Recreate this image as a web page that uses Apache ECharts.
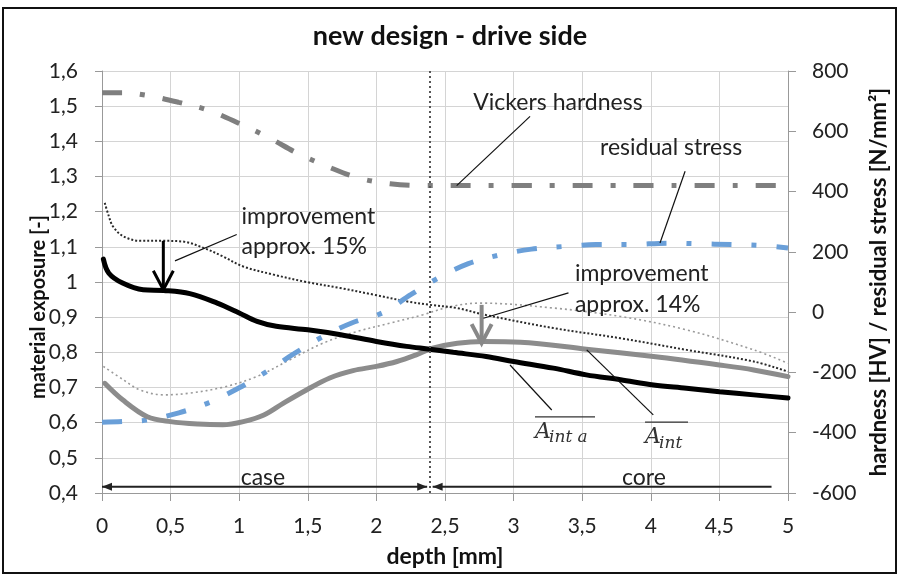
<!DOCTYPE html>
<html><head><meta charset="utf-8">
<script src="https://cdn.jsdelivr.net/npm/echarts@6/dist/echarts.min.js"></script>
<style>html,body{margin:0;padding:0;background:#fff}#c{width:900px;height:577px}</style>
</head><body><div id="c"></div>
<script>
// ---- data (depth [mm], value) ----
const titleText = 'new design - drive side';
const xName = 'depth [mm]';
const yLeftName = 'material exposure [-]';
const yRightName = 'hardness [HV] / residual stress [N/mm²]';

// Vickers hardness (right axis)
const vickers = [[0,728],[0.15,728],[0.33,719],[0.56,696],[0.78,669],[1.0,626],[1.22,578],[1.43,526],[1.65,482],[1.87,445],[2.1,426],[2.34,420],[3,420],[4,420],[5,420]];
// residual stress (right axis)
const residual = [[0,-365],[0.15,-363],[0.33,-358],[0.56,-334],[0.78,-300],[1.0,-251],[1.2,-197],[1.4,-138],[1.61,-81],[1.82,-36],[2.05,-1],[2.25,58],[2.45,113],[2.67,161],[2.9,190],[3.13,209],[3.37,218],[3.6,224],[3.84,224],[4.13,229],[4.33,227],[4.6,224],[4.8,221],[5.0,213]];
// A_int_a new (black solid)
const aIntA = [[0.01,1.065],[0.05,1.025],[0.15,0.997],[0.3,0.978],[0.45,0.976],[0.64,0.967],[0.84,0.94],[1.0,0.912],[1.13,0.888],[1.27,0.874],[1.5,0.864],[1.74,0.85],[2.0,0.831],[2.22,0.817],[2.39,0.809],[2.56,0.80],[2.8,0.788],[3.0,0.774],[3.29,0.755],[3.53,0.736],[3.78,0.722],[4.02,0.707],[4.26,0.698],[4.5,0.688],[4.75,0.679],[5.0,0.67]];
// A_int new (gray solid)
const aInt = [[0.02,0.712],[0.15,0.665],[0.33,0.617],[0.5,0.603],[0.7,0.596],[0.88,0.594],[1.03,0.603],[1.18,0.622],[1.32,0.655],[1.49,0.693],[1.66,0.727],[1.83,0.748],[2.0,0.76],[2.15,0.774],[2.29,0.793],[2.41,0.812],[2.59,0.826],[2.78,0.831],[3.05,0.829],[3.53,0.809],[4.02,0.788],[4.5,0.764],[4.75,0.75],[5.0,0.731]];
// A_int_a old (black dotted)
const aIntAOld = [[0.02,1.225],[0.05,1.187],[0.08,1.158],[0.155,1.13],[0.28,1.117],[0.45,1.117],[0.59,1.115],[0.74,1.097],[0.88,1.073],[1.03,1.044],[1.25,1.021],[1.49,1.0],[1.735,0.983],[1.98,0.964],[2.22,0.945],[2.39,0.935],[2.585,0.926],[2.8,0.906],[3.29,0.869],[3.78,0.84],[4.26,0.807],[4.75,0.774],[5.0,0.745]];
// A_int old (gray dotted)
const aIntOld = [[0.01,0.76],[0.155,0.722],[0.277,0.693],[0.447,0.679],[0.64,0.684],[0.884,0.701],[1.128,0.731],[1.37,0.779],[1.61,0.826],[1.856,0.859],[2.1,0.883],[2.34,0.907],[2.54,0.93],[2.755,0.94],[3.29,0.926],[3.78,0.902],[4.26,0.864],[4.75,0.807],[5.0,0.769]];
// case / core boundary depth
const boundaryDepth = 2.39;

const FONT = 'Lato';
const fmt = v => String(Number(v.toFixed(2))).replace('.', ',');

const chart = echarts.init(document.getElementById('c'), null, {renderer: 'canvas'});

function lineSeries(data, color, width, dash, yIdx, cap) {
  return {
    type: 'line', data: data, yAxisIndex: yIdx, showSymbol: false, smooth: 0.35,
    lineStyle: {color: color, width: width, type: dash, cap: cap || 'butt'},
    z: 3, silent: true, animation: false
  };
}

chart.setOption({
  animation: false,
  backgroundColor: '#fff',
  title: {
    text: titleText, left: 'center', top: 18,
    textStyle: {fontFamily: FONT, fontWeight: 'bold', fontSize: 27, color: '#111'}
  },
  grid: {left: 102, right: 112, top: 71, bottom: 84},
  xAxis: {
    type: 'value', min: 0, max: 5, interval: 0.5,
    name: xName, nameLocation: 'middle', nameGap: 52, nameMoveOverlap: false,
    nameTextStyle: {fontFamily: FONT, fontWeight: 'bold', fontSize: 23, color: '#111'},
    axisLine: {onZero: false, lineStyle: {color: '#999', width: 1}},
    axisTick: {show: true, length: 8, lineStyle: {color: '#999'}},
    axisLabel: {formatter: fmt, fontFamily: FONT, fontSize: 21, color: '#222', margin: 23},
    splitLine: {show: true, lineStyle: {color: '#d4d4d4', width: 1}}
  },
  yAxis: [{
    type: 'value', min: 0.4, max: 1.6, interval: 0.1,
    name: yLeftName, nameLocation: 'middle', nameGap: 53, nameRotate: 90, nameMoveOverlap: false,
    nameTextStyle: {fontFamily: FONT, fontWeight: 'bold', fontSize: 20, color: '#111', padding: [0, 50, 0, 0]},
    axisLine: {show: true, onZero: false, lineStyle: {color: '#999', width: 1}},
    axisTick: {show: true, length: 7, lineStyle: {color: '#999'}},
    axisLabel: {formatter: fmt, fontFamily: FONT, fontSize: 21, color: '#222', margin: 24},
    splitLine: {show: true, lineStyle: {color: '#d4d4d4', width: 1}}
  }, {
    type: 'value', min: -600, max: 800, interval: 200, position: 'right',
    name: yRightName, nameLocation: 'middle', nameGap: 80, nameRotate: 90, nameMoveOverlap: false,
    nameTextStyle: {fontFamily: FONT, fontWeight: 'bold', fontSize: 22, color: '#111'},
    axisLine: {show: true, onZero: false, lineStyle: {color: '#999', width: 1}},
    axisTick: {show: true, length: 8, lineStyle: {color: '#999'}},
    axisLabel: {formatter: v => String(v), fontFamily: FONT, fontSize: 21, color: '#222', margin: 24},
    splitLine: {show: false}
  }],
  series: [
    lineSeries(aIntOld, '#9a9a9a', 1.6, [2, 3], 0),
    lineSeries(aIntAOld, '#2a2a2a', 2, [2, 2], 0),
    lineSeries(vickers, '#7f7f7f', 5, [20, 18, 5, 18], 1),
    lineSeries(residual, '#6a9fd8', 5, [20, 20, 5, 20], 1),
    lineSeries(aInt, '#8c8c8c', 5, 'solid', 0, 'round'),
    lineSeries(aIntA, '#000000', 5, 'solid', 0, 'round'),
    {
      type: 'line', data: [], yAxisIndex: 0, silent: true,
      markLine: {
        symbol: 'none', silent: true, label: {show: false},
        lineStyle: {color: '#555', width: 2, type: [2, 3]},
        data: [{xAxis: boundaryDepth}]
      }
    }
  ]
});

// ---- annotations, anchored in data coordinates (depth, material exposure) ----
const P = (d, v) => chart.convertToPixel({xAxisIndex: 0, yAxisIndex: 0}, [d, v]);
const txtStyle = (t, extra) => Object.assign({text: t, fontFamily: FONT, fontSize: 23, fill: '#222', textVerticalAlign: 'middle'}, extra || {});
const g = [];
function text(t, d, v, extra) {
  const p = P(d, v);
  g.push({type: 'text', x: p[0], y: p[1], style: txtStyle(t, extra), z: 10});
}
function seg(d1, v1, d2, v2, color, w) {
  const a = P(d1, v1), b = P(d2, v2);
  g.push({type: 'line', shape: {x1: a[0], y1: a[1], x2: b[0], y2: b[1]}, style: {stroke: color, lineWidth: w}, z: 10});
}
function downArrow(d, vTop, vTip, color, w) {
  const a = P(d, vTop), b = P(d, vTip);
  g.push({type: 'line', shape: {x1: a[0], y1: a[1], x2: b[0], y2: b[1] - 2}, style: {stroke: color, lineWidth: w}, z: 10});
  g.push({type: 'polyline', shape: {points: [[b[0] - 10, b[1] - 19], [b[0], b[1]], [b[0] + 10, b[1] - 19]]}, style: {stroke: color, lineWidth: w, fill: null, lineJoin: 'miter'}, z: 10});
}
function hArrow(d1, d2, v, headLeft, headRight) {
  const a = P(d1, v), b = P(d2, v);
  g.push({type: 'line', shape: {x1: a[0], y1: a[1], x2: b[0], y2: b[1]}, style: {stroke: '#222', lineWidth: 2}, z: 10});
  if (headLeft) g.push({type: 'polygon', shape: {points: [[a[0], a[1]], [a[0] + 10, a[1] - 4], [a[0] + 10, a[1] + 4]]}, style: {fill: '#222'}, z: 10});
  if (headRight) g.push({type: 'polygon', shape: {points: [[b[0], b[1]], [b[0] - 10, b[1] - 4], [b[0] - 10, b[1] + 4]]}, style: {fill: '#222'}, z: 10});
}
function aLabel(sub, d, v, overW) {
  const p = P(d, v);
  g.push({type: 'text', x: p[0], y: p[1], style: {text: 'A', fontFamily: 'DejaVu Serif', fontStyle: 'italic', fontSize: 22, fill: '#333', textVerticalAlign: 'middle'}, z: 10});
  g.push({type: 'text', x: p[0] + 14, y: p[1] + 6, style: {text: sub, fontFamily: 'DejaVu Serif', fontStyle: 'italic', fontSize: 17, fill: '#333', textVerticalAlign: 'middle'}, z: 10});
  g.push({type: 'line', shape: {x1: p[0], y1: p[1] - 15, x2: p[0] + overW, y2: p[1] - 15}, style: {stroke: '#333', lineWidth: 1.2}, z: 10});
}

// improvement 15%
downArrow(0.447, 1.117, 0.978, '#000', 3);
seg(0.532, 1.06, 0.982, 1.135, '#111', 1.2);
text('improvement', 1.017, 1.186);
text('approx. 15%', 1.017, 1.101);
// improvement 14%
downArrow(2.767, 0.935, 0.826, '#888', 4);
seg(2.78, 0.897, 3.40, 0.969, '#111', 1.2);
text('improvement', 3.447, 1.023);
text('approx. 14%', 3.447, 0.937);
// Vickers hardness
seg(2.585, 1.274, 3.12, 1.471, '#111', 1.2);
text('Vickers hardness', 2.706, 1.509);
// residual stress
seg(4.25, 1.315, 4.067, 1.111, '#111', 1.2);
text('residual stress', 3.63, 1.381);
// A_int_a label
seg(2.974, 0.764, 3.278, 0.636, '#111', 1.2);
aLabel('int a', 3.156, 0.574, 60);
// A_int label
seg(3.533, 0.807, 4.018, 0.622, '#111', 1.2);
aLabel('int', 3.958, 0.559, 43);
// case / core
hArrow(0, 2.37, 0.418, true, true);
hArrow(2.41, 4.88, 0.418, true, false);
text('case', 1.173, 0.445, {textAlign: 'center'});
text('core', 3.95, 0.445, {textAlign: 'center'});
// outer frame
g.push({type: 'rect', shape: {x: 3, y: 8, width: 893, height: 565}, style: {stroke: '#111', lineWidth: 2, fill: null}, z: 0, silent: true});

chart.setOption({graphic: g});
</script>
</body></html>
